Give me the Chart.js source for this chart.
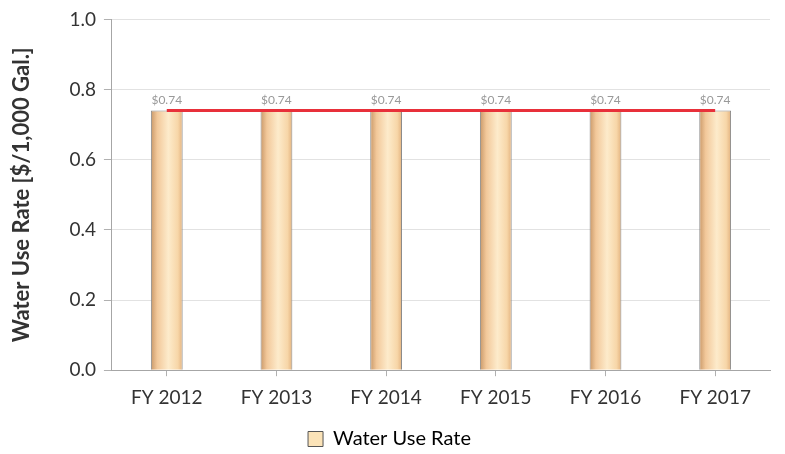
<!DOCTYPE html>
<html>
<head>
<meta charset="utf-8">
<script src="https://cdn.jsdelivr.net/npm/chart.js@4.4.1/dist/chart.umd.min.js"></script>
<style>
  html, body { margin: 0; padding: 0; background: #fff; }
  #wrap { width: 785px; height: 454px; }
</style>
</head>
<body>
<div id="wrap"><canvas id="rateChart"></canvas></div>
<script>
const years = ['FY 2012', 'FY 2013', 'FY 2014', 'FY 2015', 'FY 2016', 'FY 2017'];
const waterRate = [0.74, 0.74, 0.74, 0.74, 0.74, 0.74];
const rateLabels = ['$0.74', '$0.74', '$0.74', '$0.74', '$0.74', '$0.74'];
const yTicks = [0.0, 0.2, 0.4, 0.6, 0.8, 1.0];

const FONT = 'Lato, "Open Sans", sans-serif';
const BAR_RATIO = 0.29;

// cylinder-like shading for each bar
function barFill(context) {
    const chart = context.chart;
    const xs = chart.scales && chart.scales.x;
    if (!xs || !chart.chartArea) return '#F9D9AE';
    const cx = xs.getPixelForValue(context.dataIndex);
    const w = (xs.width / years.length) * BAR_RATIO;
    const g = chart.ctx.createLinearGradient(cx - w / 2, 0, cx + w / 2, 0);
    g.addColorStop(0, '#C99868');
    g.addColorStop(0.2, '#F2C89A');
    g.addColorStop(0.55, '#FDEBCB');
    g.addColorStop(0.85, '#F7D6A8');
    g.addColorStop(1, '#E3B27E');
    return g;
}

// draws the "$0.74" labels over the bars
const valueLabels = {
    id: 'valueLabels',
    afterDatasetsDraw(chart) {
        const meta = chart.getDatasetMeta(1);
        const c = chart.ctx;
        c.save();
        c.font = '12px ' + FONT;
        c.fillStyle = '#999999';
        c.textAlign = 'center';
        c.textBaseline = 'bottom';
        meta.data.forEach((bar, i) => {
            c.fillText(rateLabels[i], bar.x, bar.y - 4);
        });
        c.restore();
    }
};

const ctx = document.getElementById('rateChart').getContext('2d');
new Chart(ctx, {
    type: 'bar',
    data: {
        labels: years,
        datasets: [{
            type: 'line',
            label: 'trend',
            data: waterRate,
            borderColor: '#E8303A',
            borderWidth: 3,
            pointRadius: 0,
            fill: false,
            order: 0
        }, {
            label: 'Water Use Rate',
            data: waterRate,
            backgroundColor: barFill,
            borderColor: '#8a8a8a',
            borderWidth: 1,
            barPercentage: BAR_RATIO,
            categoryPercentage: 1.0,
            order: 1
        }]
    },
    options: {
        responsive: true,
        maintainAspectRatio: false,
        animation: false,
        layout: {
            padding: { top: 10, right: 15, left: 9, bottom: -5 }
        },
        scales: {
            x: {
                grid: {
                    display: true,
                    drawOnChartArea: false,
                    drawTicks: true,
                    tickLength: 6,
                    color: '#b0b0b0',
                    offset: false
                },
                border: { color: '#a6a6a6' },
                ticks: {
                    font: { family: FONT, size: 19 },
                    color: '#333333',
                    padding: 10
                }
            },
            y: {
                min: 0,
                max: 1.0,
                afterBuildTicks: (axis) => {
                    axis.ticks = yTicks.map(v => ({ value: v }));
                },
                grid: {
                    color: '#e2e2e2',
                    tickLength: 8,
                    tickColor: '#b0b0b0'
                },
                border: { color: '#a6a6a6', dash: [] },
                ticks: {
                    font: { family: FONT, size: 19 },
                    color: '#333333',
                    padding: 8,
                    callback: (value) => Number(value).toFixed(1)
                },
                title: {
                    display: true,
                    text: 'Water Use Rate [$/1,000 Gal.]',
                    font: { family: FONT, size: 22, weight: 'bold' },
                    color: '#333333',
                    padding: { top: 0, bottom: 26 }
                }
            }
        },
        plugins: {
            legend: {
                position: 'bottom',
                labels: {
                    font: { family: FONT, size: 20 },
                    color: '#404040',
                    boxWidth: 15,
                    boxHeight: 15,
                    padding: 10,
                    filter: (item) => item.datasetIndex === 1,
                    generateLabels: (chart) => [{
                        text: 'Water Use Rate',
                        fillStyle: '#FBE3B8',
                        strokeStyle: '#555555',
                        lineWidth: 1,
                        datasetIndex: 1
                    }]
                }
            },
            tooltip: { enabled: false }
        }
    },
    plugins: [valueLabels]
});
</script>
</body>
</html>
